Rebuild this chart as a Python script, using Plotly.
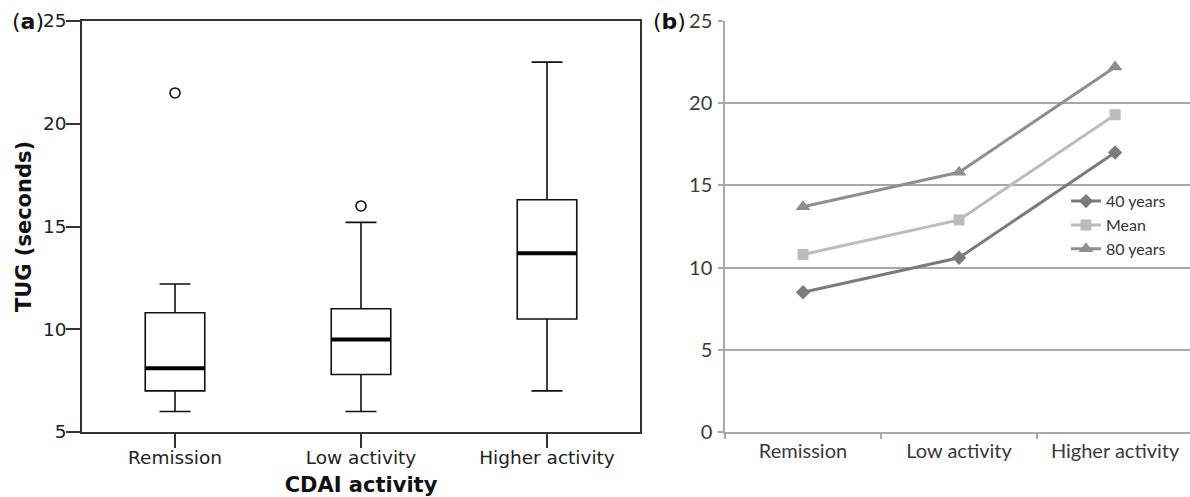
import plotly.graph_objects as go

# ---------- data ----------
categories = ["Remission", "Low activity", "Higher activity"]

# Panel (a): box plot statistics (TUG seconds)
box_lower = [6.0, 6.0, 7.0]
box_q1 = [7.0, 7.8, 10.5]
box_median = [8.1, 9.5, 13.7]
box_q3 = [10.8, 11.0, 16.3]
box_upper = [12.2, 15.2, 23.0]
outlier_cats = ["Remission", "Low activity"]
outlier_vals = [21.5, 16.0]

# Panel (b): predicted TUG by age
series_names = ["40 years", "Mean", "80 years"]
series_40 = [8.5, 10.6, 17.0]
series_mean = [10.8, 12.9, 19.3]
series_80 = [13.7, 15.8, 22.2]

a_ticks = [5, 10, 15, 20, 25]
b_ticks = [0, 5, 10, 15, 20, 25]

# ---------- styling ----------
W, H = 1190, 497
BOX_W = 0.32
A_FONT = "DejaVu Sans"
B_FONT = "Lato"
col_40 = "#7b7b7b"
col_mean = "#bcbcbc"
col_80 = "#8f8f8f"
grid_col = "#a8a8a8"

fig = go.Figure()

# Panel (a) boxes
fig.add_trace(go.Box(
    x=categories, q1=box_q1, median=box_median, q3=box_q3,
    lowerfence=box_lower, upperfence=box_upper,
    width=BOX_W, whiskerwidth=0.52, boxpoints=False,
    fillcolor="white", line=dict(color="#111111", width=1.6),
    xaxis="x", yaxis="y", showlegend=False, hoverinfo="skip",
))
fig.add_trace(go.Scatter(
    x=outlier_cats, y=outlier_vals, mode="markers",
    marker=dict(symbol="circle-open", size=10, color="#111111", line=dict(width=1.6)),
    xaxis="x", yaxis="y", showlegend=False,
))

# thick median lines
for i, m in enumerate(box_median):
    fig.add_shape(type="line", xref="x", yref="y",
                  x0=i - BOX_W / 2, x1=i + BOX_W / 2, y0=m, y1=m,
                  line=dict(color="black", width=4))

# Panel (b) lines
for name, vals, col, sym, sz in [
    (series_names[0], series_40, col_40, "diamond", 11),
    (series_names[1], series_mean, col_mean, "square", 11),
    (series_names[2], series_80, col_80, "triangle-up", 13),
]:
    fig.add_trace(go.Scatter(
        x=categories, y=vals, mode="lines+markers", name=name,
        line=dict(color=col, width=3),
        marker=dict(symbol=sym, size=sz, color=col),
        xaxis="x2", yaxis="y2",
    ))

fig.update_layout(
    width=W, height=H,
    margin=dict(l=0, r=0, t=21, b=63),
    paper_bgcolor="white", plot_bgcolor="white",
    font=dict(family=A_FONT, size=18, color="#222222"),
    xaxis=dict(
        domain=[82 / W, 640 / W], type="category", range=[-0.5, 2.5],
        showline=True, linecolor="#333333", linewidth=1.5, mirror=True,
        ticks="outside", ticklen=14, tickwidth=1.5, tickcolor="#333333",
        showgrid=False, zeroline=False, ticklabelstandoff=-6,
        tickfont=dict(family=A_FONT, size=18.5, color="#222222"),
        title=dict(text="<b>CDAI activity</b>", standoff=14,
                   font=dict(family=A_FONT, size=21, color="#111111")),
    ),
    yaxis=dict(
        anchor="x", range=[5, 25], tickvals=a_ticks,
        showline=True, linecolor="#333333", linewidth=1.5, mirror=True,
        ticks="outside", ticklen=14, tickwidth=1.5, tickcolor="#333333",
        showgrid=False, zeroline=False, ticklabelstandoff=-4,
        tickfont=dict(family=A_FONT, size=18.5, color="#222222"),
        title=dict(text="<b>TUG (seconds)</b>", standoff=6,
                   font=dict(family=A_FONT, size=21, color="#111111")),
    ),
    xaxis2=dict(
        domain=[725 / W, 1.0], anchor="y2", type="category", range=[-0.5, 2.48],
        showline=True, linecolor=grid_col, linewidth=1.5,
        ticks="outside", tickson="boundaries", ticklen=5, tickwidth=1.5, tickcolor=grid_col,
        showgrid=False, zeroline=False,
        tickfont=dict(family=B_FONT, size=20, color="#3a3a3a"),
    ),
    yaxis2=dict(
        anchor="x2", range=[0, 25], tickvals=b_ticks,
        showline=True, linecolor=grid_col, linewidth=1.5,
        ticks="outside", ticklen=5, tickwidth=1.5, tickcolor=grid_col,
        showgrid=True, gridcolor=grid_col, gridwidth=1.5, zeroline=False,
        ticklabelstandoff=2,
        tickfont=dict(family=B_FONT, size=20, color="#3a3a3a"),
    ),
    legend=dict(
        x=1066 / W, xanchor="left", y=(434 - 185) / 413, yanchor="top",
        bgcolor="rgba(0,0,0,0)", font=dict(family=B_FONT, size=16, color="#333333"),
        itemwidth=30, tracegroupgap=0,
    ),
    annotations=[
        dict(text="(<b>a</b>)", xref="paper", yref="paper", x=10 / W, y=1.0,
             xanchor="left", yanchor="middle", showarrow=False,
             font=dict(family=A_FONT, size=22, color="#111111")),
        dict(text="(<b>b</b>)", xref="paper", yref="paper", x=651 / W, y=1.0,
             xanchor="left", yanchor="middle", showarrow=False,
             font=dict(family=A_FONT, size=22, color="#111111")),
    ],
)

fig.write_html(
    "out.html",
    config={"displayModeBar": False},
    post_script="document.body.style.margin='0';document.body.style.overflow='hidden';",
)
